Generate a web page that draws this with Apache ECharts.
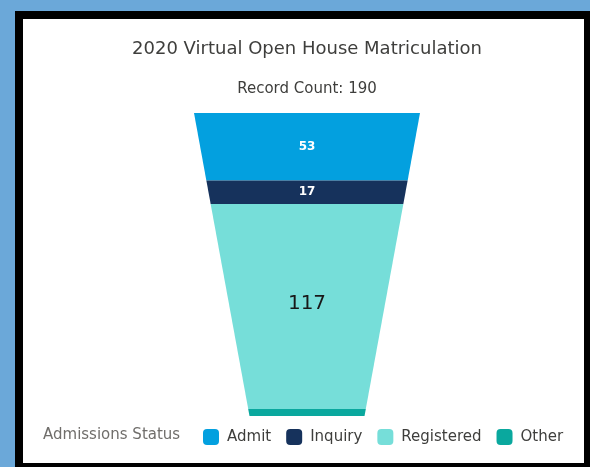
<!DOCTYPE html>
<html>
<head>
<meta charset="utf-8">
<script src="https://cdn.jsdelivr.net/npm/echarts@6/dist/echarts.min.js"></script>
<style>
  html, body { margin: 0; padding: 0; background: #6ba8d9; overflow: hidden; }
  #frame {
    position: absolute; left: 15px; top: 11px;
    width: 561px; height: 444px;
    border: 8px solid #000; background: #fff;
  }
  #chart { position: absolute; left: 0; top: 0; width: 590px; height: 467px; }
</style>
</head>
<body>
<div id="frame"></div>
<div id="chart"></div>
<script>
// funnel data
var stages = ['Admit', 'Inquiry', 'Registered', 'Other'];
var counts = [53, 17, 117, 3];
var colors = ['#03a0df', '#16325c', '#76ded9', '#0aa89e'];
var labelColors = ['#ffffff', '#ffffff', '#181818', '#ffffff'];

var total = counts.reduce(function (a, b) { return a + b; }, 0);
// bottom width / top width of the whole funnel
var ratio = 115 / 226;
var fontName = '"DejaVu Sans"';

// depth (0..1) at which the cumulative area share f is reached
function depthAt(f) {
    if (f <= 0) return 0;
    if (f >= 1) return 1;
    return (1 - Math.sqrt(1 - f * (1 - ratio * ratio))) / (1 - ratio);
}
function halfWidth(t) {
    return 1 - (1 - ratio) * t;
}

function renderStage(params, api) {
    var i = api.value(0);
    var before = 0;
    for (var k = 0; k < i; k++) before += counts[k];
    var t0 = depthAt(before / total);
    var t1 = depthAt((before + counts[i]) / total);
    var pts = [
        api.coord([-halfWidth(t0), t0]),
        api.coord([halfWidth(t0), t0]),
        api.coord([halfWidth(t1), t1]),
        api.coord([-halfWidth(t1), t1])
    ];
    var mid = api.coord([0, (t0 + t1) / 2]);
    var h = pts[2][1] - pts[0][1];
    var children = [{
        type: 'polygon',
        shape: { points: pts },
        style: { fill: colors[i] }
    }];
    if (h > 14) {
        var big = h > 100;
        children.push({
            type: 'text',
            x: mid[0],
            y: big ? mid[1] - 3 : mid[1],
            style: {
                text: String(counts[i]),
                fill: labelColors[i],
                font: (big ? 'normal 20px ' : 'bold 12px ') + fontName,
                align: 'center',
                verticalAlign: 'middle'
            }
        });
    }
    return { type: 'group', children: children };
}

var series = stages.map(function (name, i) {
    return {
        name: name,
        type: 'custom',
        renderItem: renderStage,
        data: [[i]],
        itemStyle: { color: colors[i] },
        silent: true,
        animation: false
    };
});

var chart = echarts.init(document.getElementById('chart'), null, { renderer: 'canvas' });
chart.setOption({
    backgroundColor: 'transparent',
    textStyle: { fontFamily: 'DejaVu Sans' },
    grid: { left: 194, right: 170, top: 113, bottom: 51 },
    xAxis: { type: 'value', min: -1, max: 1, show: false },
    yAxis: { type: 'value', min: 0, max: 1, inverse: true, show: false },
    graphic: [
        {
            type: 'text', x: 307, y: 49,
            style: {
                text: '2020 Virtual Open House Matriculation',
                fill: '#3e3e3c', font: '18px ' + fontName,
                align: 'center', verticalAlign: 'middle'
            }
        },
        {
            type: 'text', x: 307, y: 89,
            style: {
                text: 'Record Count: ' + total,
                fill: '#3e3e3c', font: '15px ' + fontName,
                align: 'center', verticalAlign: 'middle'
            }
        },
        {
            type: 'text', x: 43, y: 435,
            style: {
                text: 'Admissions Status',
                fill: '#706e6b', font: '15px ' + fontName,
                align: 'left', verticalAlign: 'middle'
            }
        }
    ],
    legend: {
        data: stages,
        left: 198,
        top: 424,
        icon: 'roundRect',
        itemWidth: 16,
        itemHeight: 16,
        itemGap: 15,
        selectedMode: false,
        textStyle: { fontSize: 15, color: '#3e3e3c', fontFamily: 'DejaVu Sans', padding: [0, 0, 0, 3] }
    },
    series: series
});
</script>
</body>
</html>
